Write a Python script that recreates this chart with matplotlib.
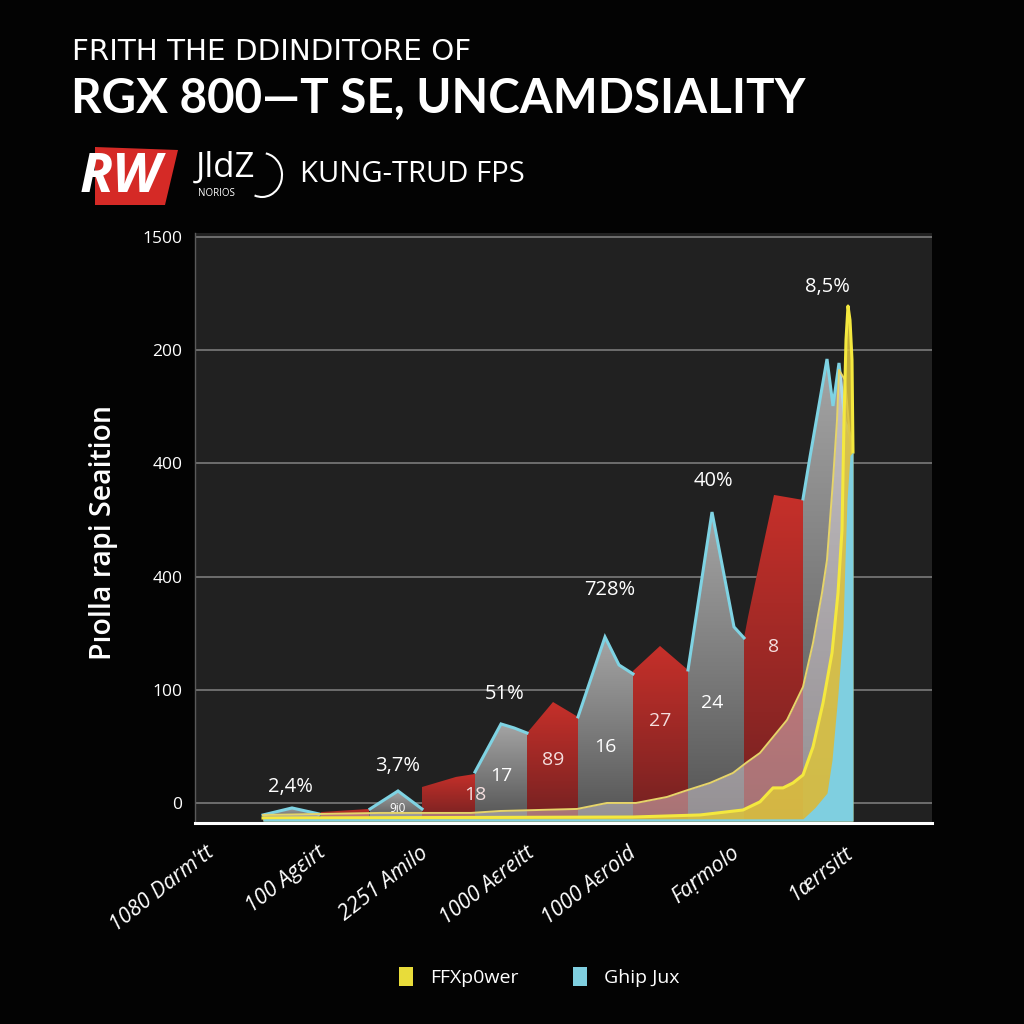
import numpy as np
import matplotlib
matplotlib.use("Agg")
import matplotlib.pyplot as plt
from matplotlib.patches import Polygon, Patch, Arc
from matplotlib.colors import LinearSegmentedColormap

# ---------------- data ----------------
title1 = "FRITH THE DDINDITORE OF"
title2 = "RGX 800\u2014T SE, UNCAMDSIALITY"
brand = "JldZ"
brand_small = "NORIOS"
subtitle = "KUNG-TRUD FPS"
ylabel = "P\u0131olla rapi Seaition"

ytick_pos = [0, 100, 200, 300, 400, 500]
ytick_labels = ["0", "100", "400", "400", "200", "1500"]

categories = ["1080 Darm'tt", "100 Ag\u03b5irt", "2251 Amilo", "1000 A\u03b5reitt",
              "1000 A\u03b5roid", "Fa\u1e5bmolo", "1\u00e6rrsitt"]
category_pos = [10, 122, 224, 331, 432, 536, 649]

# alternating gray / red area segments (x, value)
seg_kind = ["gray", "red", "gray", "red", "gray", "red", "gray", "red", "gray", "red", "gray"]
seg_x = [
    [68, 97, 124],
    [126, 174],
    [175, 203, 227],
    [227, 261, 280],
    [280, 306, 319, 332],
    [332, 358, 383],
    [383, 410, 424, 438],
    [438, 465, 493],
    [493, 517, 539, 549],
    [549, 553, 565, 579, 608],
    [608, 615, 632, 638, 644, 650, 657],
]
seg_y = [
    [-10.6, -4.4, -9.7],
    [-8.0, -5.3],
    [-5.3, 10.6, -5.3],
    [14.1, 23.0, 25.6],
    [27.4, 69.8, 66.3, 61.8],
    [61.8, 89.2, 76.0],
    [76.0, 146.6, 121.9, 114.0],
    [116.6, 138.7, 117.5],
    [117.5, 257.0, 155.5, 145.8],
    [145.8, 164.3, 214.7, 272.1, 267.7],
    [268.6, 305.7, 392.2, 350.7, 388.7, 337.0, 320.0],
]
seg_text = ["", "", "9i0", "18", "17", "89", "16", "27", "24", "8", ""]
seg_text_y = [0, 0, -5, 7, 24, 38, 49, 72, 88, 138, 0]

pct_text = ["2,4%", "3,7%", "51%", "728%", "40%", "8,5%"]
pct_x = [95, 203, 310, 415, 518, 632]
pct_y = [14, 33, 96, 188, 284, 456]

# FFXp0wer: outer (pale) curve and inner (bright) curve
ff_outer_x = [68, 185, 276, 305, 382, 412, 441, 472, 493, 515, 538, 552, 565, 592,
              608, 618, 627, 632, 638, 642, 644, 650, 657]
ff_outer_y = [-10.6, -8.8, -8.8, -7.1, -5.3, 0.0, 0.0, 5.3, 11.5, 17.7, 26.5, 36.0,
              44.2, 73.3, 102.5, 141.3, 185.5, 214.7, 285.0, 338.0, 382.5, 373.7, 303.0]
ff_inner_x = [68, 438, 505, 548, 565, 578, 588, 598, 608, 618, 628, 637, 643, 647,
              649, 651, 653, 655, 657, 658]
ff_inner_y = [-13.3, -12.4, -10.6, -6.2, 1.0, 13.3, 13.3, 17.7, 24.7, 49.5, 88.3,
              132.5, 185.5, 241.0, 338.0, 409.0, 439.0, 426.6, 391.4, 310.0]
# Ghip Jux
gj_x = [68, 608, 620, 632, 637, 643, 648, 650, 652, 655, 658]
gj_y = [-14.0, -14.0, -4.0, 8.8, 38.0, 97.0, 155.5, 214.7, 267.7, 307.0, 310.0]

series_names = ["FFXp0wer", "Ghip Jux"]

# ---------------- style ----------------
BASE = -16
FONT = ["Open Sans", "DejaVu Sans"]
plt.rcParams["font.family"] = FONT

fig = plt.figure(figsize=(10.24, 10.24), dpi=100, facecolor="#030303")
ax = fig.add_axes([195 / 1024, 1 - 823 / 1024, (932 - 195) / 1024, (823 - 233) / 1024])
ax.set_facecolor("#212121")

colors = {
    "gray": ("#a5a5a5", "#535353"),
    "red": ("#c6302a", "#722121"),
}


def grad_area(xs, ys, top_c, bot_c, z):
    verts = [(xs[0], BASE)] + list(zip(xs, ys)) + [(xs[-1], BASE)]
    poly = Polygon(verts, closed=True, facecolor="none", edgecolor="none")
    ax.add_patch(poly)
    cmap = LinearSegmentedColormap.from_list("g", [bot_c, top_c])
    grad = np.linspace(0, 1, 256).reshape(-1, 1)
    im = ax.imshow(grad, extent=(min(xs), max(xs), BASE, max(ys)), origin="lower",
                   aspect="auto", cmap=cmap, zorder=z, interpolation="bilinear")
    im.set_clip_path(poly)


for kind, xs, ys in zip(seg_kind, seg_x, seg_y):
    top_c, bot_c = colors[kind]
    grad_area(xs, ys, top_c, bot_c, 2)
    if kind == "gray":
        ax.plot(xs, ys, color="#7fd3e3", lw=2.2, zorder=3, solid_joinstyle="miter")

# FFXp0wer outer translucent area
ax.fill_between(ff_outer_x, BASE, ff_outer_y, color="#f0e6ee", alpha=0.42, lw=0, zorder=4)
ax.plot(ff_outer_x, ff_outer_y, color="#e6d46a", lw=1.4, zorder=5)
# FFXp0wer inner bright area
ax.fill_between(ff_inner_x, BASE, ff_inner_y, color="#dcc33c", alpha=0.85, lw=0, zorder=6)
ax.plot(ff_inner_x, ff_inner_y, color="#f4e83e", lw=2.2, zorder=7)
# Ghip Jux
ax.fill_between(gj_x, BASE, gj_y, color="#7fcfe0", lw=0, zorder=8)

# labels inside segments
for kind, xs, ys, t, ty in zip(seg_kind, seg_x, seg_y, seg_text, seg_text_y):
    if not t:
        continue
    px = xs[int(np.argmax(ys))]
    fs = 8.5 if t == "9i0" else 14
    c = "#f4dede" if kind == "red" else "#ffffff"
    ax.text(px, ty, t, ha="center", va="center", fontsize=fs, color=c, zorder=10)

for t, x, y in zip(pct_text, pct_x, pct_y):
    ax.text(x, y, t, ha="center", va="center", fontsize=14.5, color="white", zorder=10)

# axes
ax.set_xlim(0, 737)
ax.set_ylim(-17.7, 503.5)
ax.set_yticks(ytick_pos)
ax.set_yticklabels(ytick_labels, color="white", fontsize=12.5)
ax.yaxis.grid(True, color="#7a7a7a", lw=1.2, zorder=1)
ax.set_axisbelow(True)
ax.tick_params(axis="y", length=0, pad=9)
ax.set_xticks(category_pos)
ax.set_xticklabels(categories, rotation=38, ha="right", va="top", rotation_mode="anchor",
                   color="white", fontsize=15.5, fontstyle="italic")
ax.tick_params(axis="x", length=0, pad=14)
for s in ["top", "right"]:
    ax.spines[s].set_visible(False)
ax.spines["left"].set_color("#5a5a5a")
ax.spines["left"].set_linewidth(1.0)
ax.spines["bottom"].set_color("white")
ax.spines["bottom"].set_linewidth(2.2)

renderer = fig.canvas.get_renderer()


def fit(t, target_px, vertical=False):
    bb = t.get_window_extent(renderer=renderer)
    size = bb.height if vertical else bb.width
    t.set_fontsize(t.get_fontsize() * target_px / size)


# y label
yl = fig.text(103 / 1024, 1 - 532 / 1024, ylabel, rotation=90, ha="center", va="center",
              color="white", fontsize=19, fontweight="semibold")
fit(yl, 255, vertical=True)

# titles
t1 = fig.text(72 / 1024, 1 - 52 / 1024, title1, ha="left", va="center", color="white",
              fontsize=19, family=["DejaVu Sans"])
fit(t1, 400)
t2 = fig.text(71 / 1024, 1 - 98 / 1024, title2, ha="left", va="center", color="white",
              fontsize=36, fontweight="bold", family=["Lato", "DejaVu Sans"])
fit(t2, 734)

# logo
logo = Polygon([(95 / 1024, 1 - 147 / 1024), (178 / 1024, 1 - 150 / 1024),
                (165 / 1024, 1 - 205 / 1024), (95 / 1024, 1 - 205 / 1024)],
               closed=True, transform=fig.transFigure, facecolor="#d52a26", edgecolor="none")
fig.patches.append(logo)
rw = fig.text(80 / 1024, 1 - 178 / 1024, "RW", ha="left", va="center", color="white",
              fontsize=24, fontweight="bold", fontstyle="italic")
fit(rw, 82)
fig.text(196 / 1024, 1 - 168 / 1024, brand, ha="left", va="center", color="white",
         fontsize=25)
fig.text(198 / 1024, 1 - 193 / 1024, brand_small, ha="left", va="center", color="white",
         fontsize=7)
arc = Arc((262 / 1024, 1 - 175 / 1024), 40 / 1024, 44 / 1024, theta1=-110, theta2=80,
          transform=fig.transFigure, color="white", lw=1.5)
fig.patches.append(arc)
st = fig.text(300 / 1024, 1 - 175 / 1024, subtitle, ha="left", va="center", color="white",
              fontsize=19)
fit(st, 225)

# legend
handles = [Patch(facecolor="#e8dc3a", edgecolor="none"), Patch(facecolor="#7fcfe0", edgecolor="none")]
fig.legend(handles, series_names, loc="center", bbox_to_anchor=(0.527, 1 - 977 / 1024),
           ncol=2, frameon=False, labelcolor="white", fontsize=14, handlelength=0.7,
           handleheight=1.1, handletextpad=0.9, columnspacing=2.8)

fig.savefig("out.png", dpi=100, facecolor=fig.get_facecolor())
